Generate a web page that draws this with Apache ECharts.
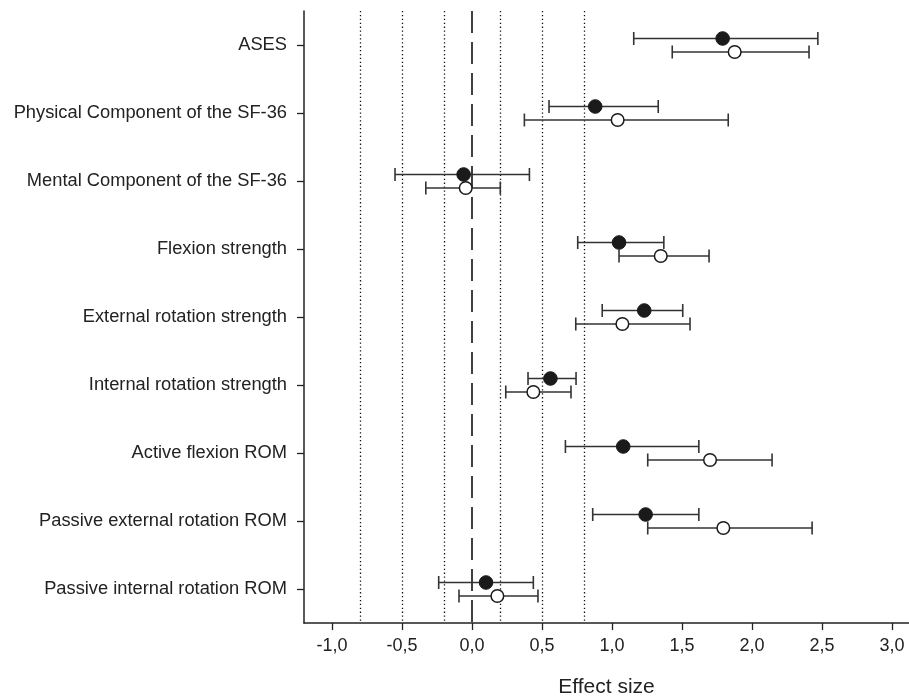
<!DOCTYPE html>
<html>
<head>
<meta charset="utf-8">
<script src="https://cdn.jsdelivr.net/npm/echarts@6/dist/echarts.min.js"></script>
<style>html,body{margin:0;padding:0;background:#fff;}#c{width:909px;height:700px;}</style>
</head>
<body>
<div id="c"></div>
<script>
const categories = ['ASES', 'Physical Component of the SF-36', 'Mental Component of the SF-36',
  'Flexion strength', 'External rotation strength', 'Internal rotation strength',
  'Active flexion ROM', 'Passive external rotation ROM', 'Passive internal rotation ROM'];
const filledMean = [1.79, 0.88, -0.06, 1.05, 1.23, 0.56, 1.08, 1.24, 0.10];
const filledLow  = [1.155, 0.55, -0.55, 0.755, 0.93, 0.40, 0.667, 0.862, -0.238];
const filledHigh = [2.47, 1.33, 0.41, 1.37, 1.505, 0.743, 1.62, 1.62, 0.438];
const openMean = [1.876, 1.04, -0.045, 1.348, 1.074, 0.438, 1.70, 1.795, 0.181];
const openLow  = [1.43, 0.374, -0.33, 1.05, 0.741, 0.241, 1.255, 1.255, -0.093];
const openHigh = [2.407, 1.83, 0.202, 1.693, 1.557, 0.707, 2.143, 2.429, 0.471];
const xTicks = [-1.0, -0.5, 0.0, 0.5, 1.0, 1.5, 2.0, 2.5, 3.0];
const dottedRefs = [-0.8, -0.5, -0.2, 0.2, 0.5, 0.8];
const dashedRef = [0];

const FONT = '"Liberation Sans", Arial, sans-serif';

function rows(mean, low, high) {
  return categories.map((c, i) => [i, mean[i], low[i], high[i]]);
}

function makeRender(offset, filled) {
  return function (params, api) {
    const cat = api.value(0);
    const pm = api.coord([api.value(1), cat]);
    const pl = api.coord([api.value(2), cat]);
    const ph = api.coord([api.value(3), cat]);
    const y = pm[1] + offset;
    const cap = 6.5;
    const ls = { stroke: '#333', lineWidth: 1.6 };
    return {
      type: 'group',
      children: [
        { type: 'line', shape: { x1: pl[0], y1: y, x2: ph[0], y2: y }, style: ls },
        { type: 'line', shape: { x1: pl[0], y1: y - cap, x2: pl[0], y2: y + cap }, style: ls },
        { type: 'line', shape: { x1: ph[0], y1: y - cap, x2: ph[0], y2: y + cap }, style: ls },
        { type: 'circle', shape: { cx: pm[0], cy: y, r: filled ? 6.8 : 6.3 },
          style: filled ? { fill: '#1a1a1a', stroke: '#1a1a1a', lineWidth: 1 } : { fill: '#fff', stroke: '#1a1a1a', lineWidth: 1.5 } }
      ]
    };
  };
}

const chart = echarts.init(document.getElementById('c'), null, { renderer: 'canvas' });
chart.setOption({
  animation: false,
  backgroundColor: '#fff',
  grid: { left: 304, right: 0, top: 11, bottom: 77, containLabel: false, outerBoundsMode: 'none' },
  xAxis: {
    type: 'value', min: -1.2, max: 3.121,
    splitLine: { show: false },
    axisLine: { show: true, onZero: false, lineStyle: { color: '#222', width: 1.5 } },
    axisTick: { show: true, length: 7, customValues: xTicks, lineStyle: { color: '#222', width: 1.3 } },
    axisLabel: { customValues: xTicks, margin: 14, fontSize: 18, color: '#222', fontFamily: FONT,
      formatter: v => v.toFixed(1).replace('.', ',') },
    name: 'Effect size', nameLocation: 'middle', nameGap: 54,
    nameTextStyle: { fontSize: 21, color: '#222', fontFamily: FONT }
  },
  yAxis: {
    type: 'category', data: categories, inverse: true,
    axisLine: { show: true, onZero: false, lineStyle: { color: '#222', width: 1.5 } },
    axisTick: { show: true, alignWithLabel: true, length: 7, lineStyle: { color: '#222', width: 1.3 } },
    axisLabel: { margin: 17, fontSize: 18.3, color: '#222', fontFamily: FONT },
    splitLine: { show: false }
  },
  series: [
    {
      type: 'line', data: [], silent: true,
      markLine: {
        silent: true, symbol: 'none', label: { show: false },
        lineStyle: { color: '#111', width: 1.3, type: [1.3, 2.6] },
        data: dottedRefs.map(v => ({ xAxis: v }))
      }
    },
    {
      type: 'line', data: [], silent: true,
      markLine: {
        silent: true, symbol: 'none', label: { show: false },
        lineStyle: { color: '#111', width: 1.6, type: [22, 9] },
        data: dashedRef.map(v => ({ xAxis: v }))
      }
    },
    {
      type: 'custom', name: 'filled', renderItem: makeRender(-6.5, true),
      encode: { x: [1, 2, 3], y: 0 }, data: rows(filledMean, filledLow, filledHigh), z: 5
    },
    {
      type: 'custom', name: 'open', renderItem: makeRender(7, false),
      encode: { x: [1, 2, 3], y: 0 }, data: rows(openMean, openLow, openHigh), z: 5
    }
  ]
});
</script>
</body>
</html>
